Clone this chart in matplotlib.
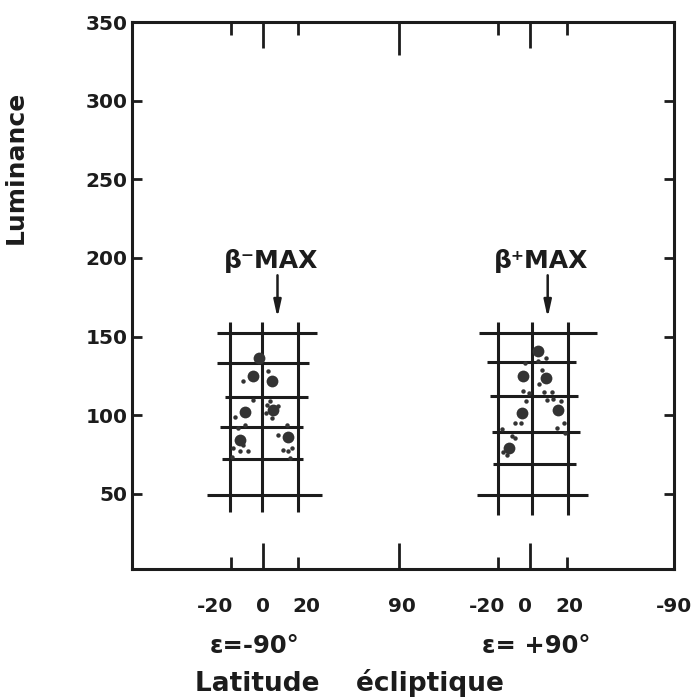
import matplotlib.pyplot as plt
from matplotlib.ticker import FixedLocator, FixedFormatter
from matplotlib.transforms import ScaledTranslation

# axes
lum_ticks = [50, 100, 150, 200, 250, 300, 350]
lum_range = (2.3, 350)
x_range = (-82, 257)

# composite latitude axis: two blocks (epsilon = -90 and +90)
block_centre = [0, 167]
block_names = ["ε=-90°", "ε= +90°"]
major_pos = [0, 85, 167, 257]
major_lab = ["0", "90", "0", "-90"]
minor_pos = [-20, 22, 147, 190]
minor_lab = ["-20", "20", "-20", "20"]

# hand drawn grids (latitude relative to block centre, luminance)
vlines = [[-21, -1, 22], [-20, 1, 24]]
vline_span = [(38.5, 159.6), (36.6, 159.6)]
hlines = [[152.5, 133.4, 111.8, 92.7, 72.3, 49.4],
          [152.5, 134.0, 112.4, 89.5, 69.1, 49.4]]
hline_from = [[-29, -29, -24, -27, -26, -35],
              [-32, -27, -25, -24, -23, -33]]
hline_to = [[34, 29, 28, 25, 25, 37],
            [42, 29, 30, 31, 29, 36]]

# measurements, epsilon = -90
big_lat_m = [-2.5, -6.1, 5.4, -11.3, 6.4, -14.4, 15.8]
big_lum_m = [136.6, 124.7, 121.5, 102.4, 103.5, 84.4, 86.5]
small_lat_m = [-12.3, 3.3, -6.1, -17.5, -11.3, -15.4, 2.3, 4.4, 9.6, 5.4, 1.9,
               -18.6, -19.6, -12.3, -9.2, -14.4, 14.8, 9.6, 12.7, 15.8, 17.9, 16.9]
small_lum_m = [121.5, 127.9, 109.9, 99.2, 94.0, 91.8, 106.7, 108.8, 105.6, 98.2, 101.4,
               79.1, 73.8, 81.2, 77.0, 77.0, 94.0, 87.6, 78.0, 77.0, 79.1, 72.7]

# measurements, epsilon = +90
big_lat_p = [5.2, -4.2, 10.0, -5.2, 17.7, -12.9]
big_lum_p = [140.6, 124.7, 123.7, 101.4, 103.5, 79.1]
small_lat_p = [-3.1, 10.0, 5.2, 7.3, 5.8, -4.2, -0.4, 8.8, 13.6, 10.4, 14.6, 19.2,
               -2.5, -9.4, -5.8, 21.3, 17.1, 21.9, -17.7, -11.4, -9.4, -16.7, -14.6]
small_lum_p = [133.2, 136.4, 134.3, 129.0, 120.1, 115.2, 114.1, 114.5, 114.5, 109.9,
               110.3, 109.4, 108.8, 95.0, 95.0, 95.4, 91.8, 89.0, 91.2, 86.9, 85.5,
               76.9, 74.8]

# beta max annotations
max_labels = ["β⁻MAX", "β⁺MAX"]
max_lat = [9, 11]

ink = "#1c1c1c"
plt.rcParams["font.family"] = ["DejaVu Sans"]
plt.rcParams["font.weight"] = "bold"

fig = plt.figure(figsize=(7, 6.99), dpi=100)
ax = fig.add_axes([132 / 700, 1 - 569 / 699, 542 / 700, 547 / 699])
ax.set_xlim(*x_range)
ax.set_ylim(*lum_range)

big = [(big_lat_m, big_lum_m), (big_lat_p, big_lum_p)]
small = [(small_lat_m, small_lum_m), (small_lat_p, small_lum_p)]

for b, c in enumerate(block_centre):
    for v in vlines[b]:
        ax.plot([c + v, c + v], vline_span[b], color=ink, lw=2.2,
                solid_capstyle="butt")
    for h, x0, x1 in zip(hlines[b], hline_from[b], hline_to[b]):
        ax.plot([c + x0, c + x1], [h, h], color=ink, lw=2.2,
                solid_capstyle="butt")
    lat, lum = small[b]
    ax.plot([c + v for v in lat], lum, "o", color="#333333", ms=3.2, mew=0)
    lat, lum = big[b]
    ax.plot([c + v for v in lat], lum, "o", color="#333333", ms=8.5, mew=0)

    ax.annotate("", xy=(c + max_lat[b], 162), xytext=(c + max_lat[b], 189),
                arrowprops=dict(arrowstyle="-|>,head_length=1.0,head_width=0.22",
                                color=ink, lw=1.8, shrinkA=0, shrinkB=0))
    ax.text(c + max_lat[b] - 4, 198, max_labels[b], ha="center", va="center",
            fontsize=18, color=ink)

# frame and ticks
for s in ax.spines.values():
    s.set_linewidth(2.2)
    s.set_color(ink)

ax.yaxis.set_major_locator(FixedLocator(lum_ticks))
ax.xaxis.set_major_locator(FixedLocator(major_pos))
ax.xaxis.set_major_formatter(FixedFormatter(major_lab))
ax.xaxis.set_minor_locator(FixedLocator(minor_pos))
ax.xaxis.set_minor_formatter(FixedFormatter(minor_lab))

ax.tick_params(axis="x", which="major", direction="in", top=True, length=19,
               width=2, pad=20, labelsize=14.5, colors=ink)
ax.tick_params(axis="x", which="minor", direction="in", top=True, length=9,
               width=2, pad=20, labelsize=14.5, colors=ink)
ax.tick_params(axis="y", direction="in", right=True, length=7, width=2,
               pad=3, labelsize=14.5, colors=ink)

# the 90 mark is drawn a little longer on the top edge
ax.xaxis.get_major_ticks()[1].tick2line.set_markersize(24)

# the hand lettered minus signs push the "-20" labels to the left
minor_shift = [-16, 8, -11, 2]
for lab, dx in zip(ax.xaxis.get_ticklabels(minor=True), minor_shift):
    lab.set_transform(lab.get_transform()
                      + ScaledTranslation(dx / 100, 0, fig.dpi_scale_trans))
major_shift = [0, 3, -5, 0]
for lab, dx in zip(ax.xaxis.get_ticklabels(), major_shift):
    lab.set_transform(lab.get_transform()
                      + ScaledTranslation(dx / 100, 0, fig.dpi_scale_trans))

ax.set_ylabel("Luminance", fontsize=18, fontweight="bold", color=ink)
ax.yaxis.set_label_coords(-0.192, 0.735)

name_shift = [-5, 4]
for c, dx, name in zip(block_centre, name_shift, block_names):
    ax.text(c + dx, -0.14, name, transform=ax.get_xaxis_transform(),
            ha="center", va="center", fontsize=17.5, color=ink)

fig.text(349 / 700, 1 - 683 / 699, "Latitude    écliptique", ha="center",
         va="center", fontsize=19, color=ink)

fig.savefig("out.png", dpi=100)
